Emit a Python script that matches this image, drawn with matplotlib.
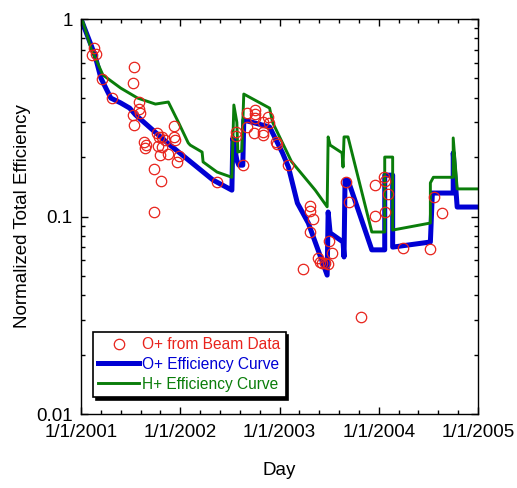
import numpy as np
import matplotlib
matplotlib.use("Agg")
import matplotlib.pyplot as plt
from matplotlib.ticker import FixedLocator, FixedFormatter, LogLocator, NullFormatter

plt.rcParams['font.family'] = ['Liberation Sans', 'DejaVu Sans']

# O+ efficiency measured from beam data (decimal year, normalized efficiency)
beam_t = [2001.134, 2001.114, 2001.148, 2001.534, 2001.209, 2001.527, 2001.309,
          2001.587, 2001.584, 2001.594, 2001.527, 2001.534, 2001.940, 2001.763,
          2001.786, 2001.819, 2001.940, 2001.947, 2001.638, 2001.652, 2001.645,
          2001.773, 2001.813, 2001.846, 2001.880, 2001.799, 2001.990, 2001.964,
          2001.736, 2001.806, 2001.736, 2002.370, 2002.559, 2002.559, 2002.629,
          2002.676, 2002.753, 2002.753, 2002.753, 2002.676, 2002.746, 2002.837,
          2002.837, 2002.837, 2002.887, 2002.894, 2002.965, 2002.972, 2003.083,
          2003.307, 2003.307, 2003.341, 2003.307, 2003.240, 2003.385, 2003.408,
          2003.425, 2003.458, 2003.492, 2003.502, 2003.532, 2003.818, 2003.667,
          2003.700, 2003.962, 2004.056, 2004.063, 2004.096, 2003.962, 2004.063,
          2004.247, 2004.519, 2004.560, 2004.634]
beam_eff = [0.711, 0.657, 0.665, 0.573, 0.495, 0.472, 0.400,
            0.379, 0.349, 0.335, 0.327, 0.290, 0.287, 0.264,
            0.254, 0.252, 0.254, 0.244, 0.239, 0.230, 0.2215,
            0.2275, 0.2256, 0.244, 0.207, 0.205, 0.2025, 0.1895,
            0.1734, 0.1518, 0.1057, 0.1495, 0.269, 0.2557, 0.1823,
            0.333, 0.346, 0.330, 0.314, 0.283, 0.2656, 0.302,
            0.269, 0.2587, 0.320, 0.296, 0.2375, 0.232, 0.1823,
            0.113, 0.107, 0.0968, 0.0838, 0.054, 0.0614, 0.059,
            0.058, 0.058, 0.0575, 0.0754, 0.0651, 0.0311, 0.1495,
            0.1189, 0.1439, 0.159, 0.1518, 0.1296, 0.1006, 0.1057,
            0.069, 0.0685, 0.126, 0.1038]

# O+ efficiency curve
o_t = [2001.0, 2001.14, 2001.20, 2001.30, 2001.40, 2001.49, 2001.55, 2001.87,
       2002.33, 2002.52, 2002.53, 2002.57, 2002.59, 2002.63, 2002.64, 2002.90,
       2003.03, 2003.09, 2003.18, 2003.29, 2003.48, 2003.49, 2003.51, 2003.64,
       2003.65, 2003.66, 2003.69, 2003.93, 2004.06, 2004.06, 2004.14, 2004.14,
       2004.52, 2004.54, 2004.75, 2004.75, 2004.79, 2005.0]
o_eff = [1.0, 0.657, 0.503, 0.398, 0.376, 0.354, 0.327, 0.236,
         0.153, 0.136, 0.25, 0.193, 0.182, 0.182, 0.308, 0.284,
         0.21, 0.178, 0.117, 0.0927, 0.0505, 0.1054, 0.0826, 0.0743,
         0.0624, 0.153, 0.153, 0.0678, 0.0678, 0.162, 0.162, 0.070,
         0.0743, 0.1315, 0.1315, 0.21, 0.1117, 0.1117]

# H+ efficiency curve
h_t = [2001.0, 2001.02, 2001.10, 2001.22, 2001.40, 2001.57, 2001.75, 2001.88,
       2001.98, 2002.08, 2002.10, 2002.22, 2002.23, 2002.37, 2002.52, 2002.54,
       2002.57, 2002.58, 2002.62, 2002.64, 2002.90, 2002.93, 2003.12, 2003.36,
       2003.48, 2003.49, 2003.51, 2003.63, 2003.64, 2003.65, 2003.69, 2003.93,
       2004.06, 2004.06, 2004.14, 2004.14, 2004.52, 2004.52, 2004.55, 2004.75,
       2004.75, 2004.79, 2005.0]
h_eff = [1.0, 0.966, 0.713, 0.521, 0.447, 0.398, 0.371, 0.380,
         0.301, 0.236, 0.230, 0.212, 0.189, 0.168, 0.158, 0.367,
         0.30, 0.212, 0.215, 0.417, 0.354, 0.30, 0.19, 0.136,
         0.112, 0.253, 0.230, 0.210, 0.178, 0.253, 0.253, 0.0835,
         0.0835, 0.200, 0.200, 0.0854, 0.0927, 0.148, 0.158, 0.158,
         0.250, 0.138, 0.138]

year_ticks = [2001, 2002, 2003, 2004, 2005]
year_labels = ['1/1/2001', '1/1/2002', '1/1/2003', '1/1/2004', '1/1/2005']

red = '#e8231c'
blue = '#0000d4'
green = '#0a7d0a'

fig = plt.figure(figsize=(5.17, 4.88), dpi=100)
ax = fig.add_axes([0.1567, 0.1516, 0.7679, 0.8094])

ax.plot(beam_t, beam_eff, linestyle='none', marker='o', markersize=7.5,
        markerfacecolor='none', markeredgecolor=red, markeredgewidth=0.9,
        color=red, label='O+ from Beam Data', zorder=3)
ax.plot(o_t, o_eff, color=blue, lw=3.6, label='O+ Efficiency Curve', zorder=2)
ax.plot(h_t, h_eff, color=green, lw=2.1, label='H+ Efficiency Curve', zorder=2)

ax.set_yscale('log')
ax.set_ylim(0.01, 1)
ax.set_xlim(2001, 2005)

ax.xaxis.set_major_locator(FixedLocator(year_ticks))
ax.xaxis.set_major_formatter(FixedFormatter(year_labels))
ax.xaxis.set_minor_locator(FixedLocator(np.arange(2001, 2005, 0.2)))
ax.yaxis.set_major_locator(FixedLocator([0.01, 0.1, 1]))
ax.yaxis.set_major_formatter(FixedFormatter(['0.01', '0.1', '1']))
ax.yaxis.set_minor_locator(LogLocator(base=10, subs=np.arange(2, 10)))
ax.yaxis.set_minor_formatter(NullFormatter())

ax.tick_params(which='both', direction='in', top=True, right=True,
               labelsize=13.5, width=1)
ax.tick_params(which='major', length=5)
ax.tick_params(which='minor', length=3)
ax.tick_params(axis='x', pad=7)
ax.tick_params(axis='y', pad=6)
for s in ax.spines.values():
    s.set_linewidth(1)

ax.set_xlabel('Day', fontsize=13.5, labelpad=15)
ax.set_ylabel('Normalized Total Efficiency', fontsize=13.5, labelpad=4)

leg = ax.legend(loc='lower left', bbox_to_anchor=(0.03, 0.043), fontsize=11.2,
                frameon=True, fancybox=False, shadow={'color': 'black', 'alpha': 1},
                handlelength=2.6, handletextpad=0.2, borderpad=0.35,
                labelspacing=0.3, borderaxespad=0)
leg.get_frame().set_edgecolor('black')
leg.get_frame().set_linewidth(1.2)
for txt, c in zip(leg.get_texts(), [red, blue, green]):
    txt.set_color(c)

fig.savefig('out.png', dpi=100)
